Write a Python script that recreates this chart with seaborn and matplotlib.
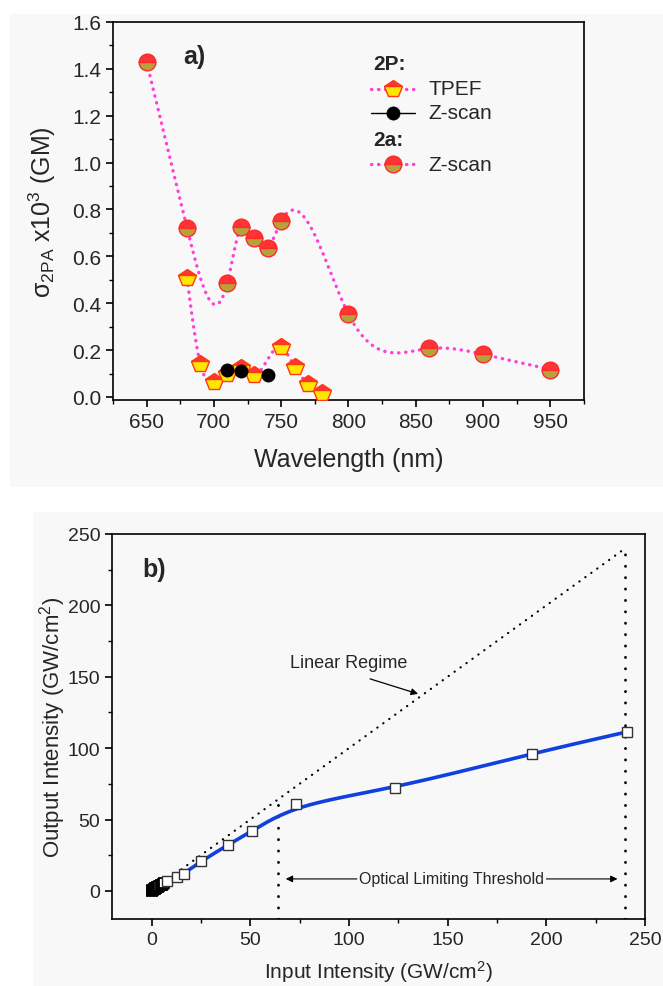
import numpy as np
import pandas as pd
import matplotlib
matplotlib.use("Agg")
import matplotlib.pyplot as plt
from matplotlib.patches import Rectangle
from matplotlib.ticker import MultipleLocator
import seaborn as sns

# ---- (a) two-photon absorption cross sections ----
wl_2a = [650, 680, 710, 720, 730, 740, 750, 800, 860, 900, 950]
sigma_2a = [1.43, 0.722, 0.487, 0.727, 0.680, 0.636, 0.750, 0.353, 0.207, 0.182, 0.117]

wl_tpef = [680, 690, 700, 710, 720, 730, 750, 760, 770, 780]
sigma_tpef = [0.507, 0.139, 0.064, 0.099, 0.124, 0.092, 0.213, 0.128, 0.057, 0.017]

wl_zscan_2p = [710, 720, 740]
sigma_zscan_2p = [0.116, 0.111, 0.095]

# ---- (b) optical limiting ----
input_low = [0.0, 0.4, 0.8, 1.2, 1.6, 2.0, 2.5, 3.0, 3.5, 4.0, 4.6, 5.2, 5.8, 6.5]
output_low = [0.0, 0.35, 0.7, 1.0, 1.35, 1.7, 2.1, 2.55, 3.0, 3.4, 3.9, 4.4, 4.9, 5.5]
input_int = [7.9, 13.0, 16.2, 25.2, 38.5, 51.1, 73.2, 123.2, 192.5, 240.6]
output_int = [6.9, 9.7, 12.0, 20.8, 32.1, 42.1, 60.6, 71.8, 96.2, 111.3]
linear_x = [0, 240]
threshold = 64
max_input = 240

PINK = "#ff3fd6"
RED = "#ff3434"
OLIVE = "#b6a23c"
YELLOW = "#ffe600"
BLUE = "#1040e0"
BG = "#f8f8f8"


def natural_spline(x, y, xs):
    """Natural cubic spline through (x, y) evaluated at xs."""
    x = np.asarray(x, float)
    y = np.asarray(y, float)
    n = len(x)
    h = np.diff(x)
    A = np.zeros((n, n))
    r = np.zeros(n)
    A[0, 0] = A[-1, -1] = 1.0
    for i in range(1, n - 1):
        A[i, i - 1] = h[i - 1]
        A[i, i] = 2 * (h[i - 1] + h[i])
        A[i, i + 1] = h[i]
        r[i] = 3 * ((y[i + 1] - y[i]) / h[i] - (y[i] - y[i - 1]) / h[i - 1])
    c = np.linalg.solve(A, r)
    b = (y[1:] - y[:-1]) / h - h * (2 * c[:-1] + c[1:]) / 3
    d = (c[1:] - c[:-1]) / (3 * h)
    idx = np.clip(np.searchsorted(x, xs) - 1, 0, n - 2)
    dx = xs - x[idx]
    return y[idx] + b[idx] * dx + c[idx] * dx ** 2 + d[idx] * dx ** 3


def bspline(px, py, n=40):
    """Clamped uniform cubic B-spline using the points as control points."""
    P = np.column_stack([px, py]).astype(float)
    P = np.vstack([P[0], P[0], P, P[-1], P[-1]])
    t = np.linspace(0, 1, n, endpoint=False)
    B = np.stack([(1 - t) ** 3,
                  3 * t ** 3 - 6 * t ** 2 + 4,
                  -3 * t ** 3 + 3 * t ** 2 + 3 * t + 1,
                  t ** 3], axis=1) / 6.0
    segs = [B @ P[i:i + 4] for i in range(len(P) - 3)]
    out = np.vstack(segs + [P[-1:]])
    return out[:, 0], out[:, 1]


sns.set_theme(style="ticks")
plt.rcParams["font.family"] = ["Liberation Sans", "DejaVu Sans"]
plt.rcParams["mathtext.fontset"] = "custom"
plt.rcParams["mathtext.rm"] = "Liberation Sans"
plt.rcParams["mathtext.it"] = "Liberation Sans:italic"
plt.rcParams["mathtext.bf"] = "Liberation Sans:bold"
plt.rcParams["axes.linewidth"] = 1.2

fig = plt.figure(figsize=(6.63, 9.87), dpi=100)
fig.patch.set_facecolor("white")
fig.patches.append(Rectangle((10 / 663, 1 - 488 / 987), 653 / 663, 473 / 987,
                             transform=fig.transFigure, facecolor=BG,
                             edgecolor="none", zorder=-10))
fig.patches.append(Rectangle((33 / 663, 0), 630 / 663, 474 / 987,
                             transform=fig.transFigure, facecolor=BG,
                             edgecolor="none", zorder=-10))

ax1 = fig.add_axes([0.1704, 0.5937, 0.7104, 0.383])
ax2 = fig.add_axes([0.169, 0.0674, 0.804, 0.3906])

dotted = dict(linestyle=(0, (0.1, 2.0)), linewidth=2.4, dash_capstyle="round")

# ---------------- panel (a) ----------------
xs_2a = np.linspace(min(wl_2a), max(wl_2a), 600)
curve_2a = pd.DataFrame({"wl": xs_2a, "s": natural_spline(wl_2a, sigma_2a, xs_2a)})
xs_tp = np.linspace(min(wl_tpef), max(wl_tpef), 400)
curve_tp = pd.DataFrame({"wl": xs_tp, "s": natural_spline(wl_tpef, sigma_tpef, xs_tp)})

sns.lineplot(data=curve_2a, x="wl", y="s", ax=ax1, color=PINK, sort=False,
             estimator=None, zorder=2, **dotted)
sns.lineplot(data=curve_tp, x="wl", y="s", ax=ax1, color=PINK, sort=False,
             estimator=None, zorder=2, **dotted)

circle_style = dict(marker="o", markersize=12, fillstyle="top",
                    markerfacecolor=RED, markerfacecoloralt=OLIVE,
                    markeredgecolor="#ff2a2a", markeredgewidth=1.0)
pent_style = dict(marker="p", markersize=13, fillstyle="top",
                  markerfacecolor=RED, markerfacecoloralt=YELLOW,
                  markeredgecolor="#ff3a10", markeredgewidth=1.0)
black_style = dict(marker="o", markersize=9.5, markerfacecolor="black",
                   markeredgecolor="black", markeredgewidth=0.5)

sns.lineplot(x=wl_tpef, y=sigma_tpef, ax=ax1, linestyle="none", estimator=None,
             zorder=3, **pent_style)
sns.lineplot(x=wl_2a, y=sigma_2a, ax=ax1, linestyle="none", estimator=None,
             zorder=3, **circle_style)
sns.lineplot(x=wl_zscan_2p, y=sigma_zscan_2p, ax=ax1, linestyle="none",
             estimator=None, zorder=4, **black_style)

ax1.set_xlim(625, 975)
ax1.set_ylim(-0.013, 1.6)
ax1.xaxis.set_major_locator(MultipleLocator(50))
ax1.xaxis.set_minor_locator(MultipleLocator(25))
ax1.yaxis.set_major_locator(MultipleLocator(0.2))
ax1.yaxis.set_minor_locator(MultipleLocator(0.1))
ax1.yaxis.set_major_formatter(matplotlib.ticker.FormatStrFormatter("%.1f"))
ax1.set_xlabel("Wavelength (nm)", fontsize=18)
ax1.set_ylabel("σ$_{\\mathrm{2PA}}$ x10$^3$ (GM)", fontsize=18)
ax1.xaxis.set_label_coords(0.5, -0.156)
ax1.yaxis.set_label_coords(-0.151, 0.5)
ax1.xaxis.label.set_va("center")
ax1.yaxis.label.set_va("center")
ax1.text(677, 1.455, "a)", fontsize=18, fontweight="bold", va="center", ha="left")

# legend block
tr = ax1.transAxes
rows = [0.889, 0.823, 0.760, 0.690, 0.624]
hx0, hx1, hxm, tx = 0.548, 0.641, 0.594, 0.669
ax1.text(0.552, rows[0], "2P:", transform=tr, fontsize=15, fontweight="bold", va="center")
ax1.plot([hx0, hx1], [rows[1]] * 2, transform=tr, color=PINK, **dotted)
ax1.plot([hxm], [rows[1]], transform=tr, linestyle="none", **pent_style)
ax1.text(tx, rows[1], "TPEF", transform=tr, fontsize=15, va="center")
ax1.plot([hx0, hx1], [rows[2]] * 2, transform=tr, color="black", linewidth=1.0)
ax1.plot([hxm], [rows[2]], transform=tr, linestyle="none", **black_style)
ax1.text(tx, rows[2], "Z-scan", transform=tr, fontsize=15, va="center")
ax1.text(0.552, rows[3], "2a:", transform=tr, fontsize=15, fontweight="bold", va="center")
ax1.plot([hx0, hx1], [rows[4]] * 2, transform=tr, color=PINK, **dotted)
ax1.plot([hxm], [rows[4]], transform=tr, linestyle="none", **circle_style)
ax1.text(tx, rows[4], "Z-scan", transform=tr, fontsize=15, va="center")

# ---------------- panel (b) ----------------
fx, fy = bspline(input_int, output_int)
fit = pd.DataFrame({"Iin": fx, "Iout": fy})
sns.lineplot(data=fit, x="Iin", y="Iout", ax=ax2, color=BLUE, linewidth=2.6,
             sort=False, estimator=None, zorder=2)

ax2.plot(linear_x, linear_x, color="black", linestyle=(0, (0.1, 3.2)),
         linewidth=1.6, dash_capstyle="round", zorder=1)
ax2.plot([threshold, threshold], [-20, threshold], color="black",
         linestyle=(0, (0.1, 4.0)), linewidth=2.0, dash_capstyle="round", zorder=1)
ax2.plot([max_input, max_input], [-20, max_input], color="black",
         linestyle=(0, (0.1, 4.0)), linewidth=2.0, dash_capstyle="round", zorder=1)

square_style = dict(marker="s", markersize=7.5, markerfacecolor="white",
                    markeredgecolor="#333333", markeredgewidth=1.0)
low_style = dict(square_style, markeredgecolor="black", markeredgewidth=1.3)
sns.lineplot(x=input_low, y=output_low, ax=ax2, linestyle="none", estimator=None,
             zorder=3, **low_style)
sns.lineplot(x=input_int, y=output_int, ax=ax2, linestyle="none", estimator=None,
             zorder=3, **square_style)

ax2.set_xlim(-20, 250)
ax2.set_ylim(-20, 250)
ax2.xaxis.set_major_locator(MultipleLocator(50))
ax2.xaxis.set_minor_locator(MultipleLocator(25))
ax2.yaxis.set_major_locator(MultipleLocator(50))
ax2.yaxis.set_minor_locator(MultipleLocator(25))
ax2.set_xlabel(r"Input Intensity (GW/cm$^2$)", fontsize=15)
ax2.set_ylabel(r"Output Intensity (GW/cm$^2$)", fontsize=16)
ax2.xaxis.set_label_coords(0.5, -0.134)
ax2.yaxis.set_label_coords(-0.112, 0.5)
ax2.xaxis.label.set_va("center")
ax2.yaxis.label.set_va("center")
ax2.text(-4.8, 225.5, "b)", fontsize=18, fontweight="bold", va="center", ha="left")

ax2.text(70.2, 159.7, "Linear Regime", fontsize=13, va="center", ha="left")
ax2.annotate("", xy=(135, 138), xytext=(110.7, 148.5),
             arrowprops=dict(arrowstyle="-|>", color="black", lw=0.9,
                             mutation_scale=10, shrinkA=0, shrinkB=0))
ax2.text(152, 8.4, "Optical Limiting Threshold", fontsize=11.5, va="center", ha="center")
ax2.annotate("", xy=(68, 8.4), xytext=(104, 8.4),
             arrowprops=dict(arrowstyle="-|>", color="black", lw=0.8,
                             mutation_scale=10, shrinkA=0, shrinkB=0))
ax2.annotate("", xy=(236, 8.4), xytext=(200, 8.4),
             arrowprops=dict(arrowstyle="-|>", color="black", lw=0.8,
                             mutation_scale=10, shrinkA=0, shrinkB=0))

for ax in (ax1, ax2):
    ax.set_facecolor(BG)
    for s in ax.spines.values():
        s.set_visible(True)
        s.set_linewidth(1.2)
        s.set_color("black")
    ax.tick_params(which="major", direction="out", length=5, width=1.2,
                   labelsize=15, top=False, right=False, color="black")
    ax.tick_params(which="minor", direction="out", length=3, width=1.0,
                   top=False, right=False, color="black")
ax2.tick_params(which="major", labelsize=14)

fig.savefig("out.png", dpi=100, facecolor=fig.get_facecolor())
